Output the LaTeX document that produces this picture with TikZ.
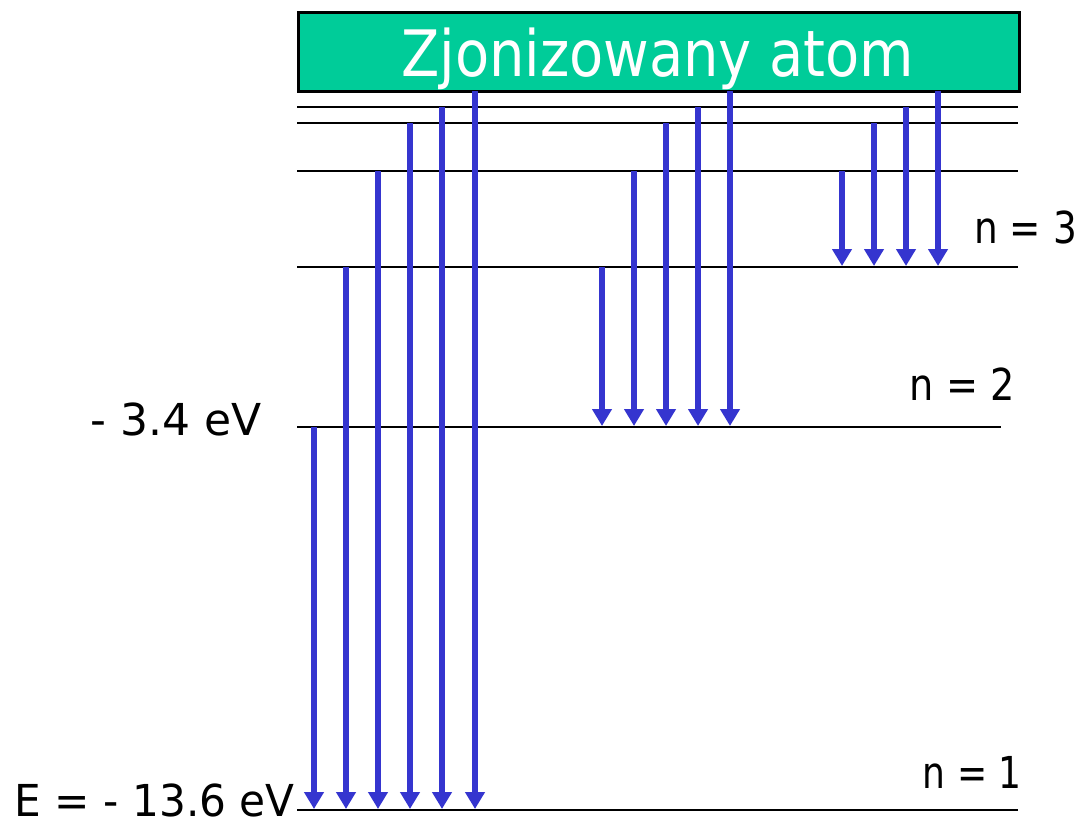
\documentclass[tikz,border=0pt]{standalone}
\usepackage{fontspec}
\setmainfont{DejaVu Sans}
\newfontfamily\titlefont{DejaVu Sans Condensed}
\usetikzlibrary{arrows.meta}
\definecolor{boxgreen}{RGB}{0,204,153}
\definecolor{arrblue}{RGB}{53,53,207}
\tikzset{
  level/.style={line width=2pt, black},
  trans/.style={line width=6pt, arrblue, -{Triangle[width=19pt,length=17pt]}, shorten >=1pt},
  lbl/.style={font=\fontsize{44}{48}\selectfont, inner sep=0pt}
}
\begin{document}
\begin{tikzpicture}[x=1pt,y=-1pt]
\useasboundingbox (0,0) rectangle (1083,823);
% title box
\node[draw=black, line width=2.5pt, fill=boxgreen, minimum width=721pt, minimum height=79pt, inner sep=0pt, anchor=north west] (box) at (297,11) {};
\node[text=white, inner sep=0pt, anchor=base] (title) at (658,76) {\scalebox{0.97}[1]{\titlefont\fontsize{64}{70}\selectfont Zjonizowany atom}};
% levels
\foreach \y/\n/\xr in {810/1/1018, 427/2/1001, 267/3/1018, 171/4/1018, 123/5/1018, 107/6/1018}{
  \coordinate (L\n a) at (297,\y);
  \coordinate (L\n b) at (\xr,\y);
  \draw[level] (L\n a) -- (L\n b);
}
% transitions to n=1
\foreach \x/\ys/\k in {314/427/1, 346/267/2, 378/171/3, 410/123/4, 442/107/5, 475/91/6}{
  \coordinate (A\k s) at (\x,\ys);
  \coordinate (A\k e) at (\x,810);
  \draw[trans] (A\k s) -- (A\k e);
}
% transitions to n=2
\foreach \x/\ys/\k in {602/267/1, 634/171/2, 666/123/3, 698/107/4, 730/91/5}{
  \coordinate (B\k s) at (\x,\ys);
  \coordinate (B\k e) at (\x,427);
  \draw[trans] (B\k s) -- (B\k e);
}
% transitions to n=3
\foreach \x/\ys/\k in {842/171/1, 874/123/2, 906/107/3, 938/91/4}{
  \coordinate (C\k s) at (\x,\ys);
  \coordinate (C\k e) at (\x,267);
  \draw[trans] (C\k s) -- (C\k e);
}
% labels
\node[lbl, anchor=base east] (e1) at (295,816) {\scalebox{0.96}[1]{E = - 13.6 eV}};
\node[lbl, anchor=base east] (e2) at (262,435) {\scalebox{1.0}[1]{- 3.4 eV}};
\node[lbl, anchor=base east] (n1) at (1022,788) {\scalebox{0.82}[1]{n = 1}};
\node[lbl, anchor=base east] (n2) at (1015,400) {\scalebox{0.87}[1]{n = 2}};
\node[lbl, anchor=base east] (n3) at (1077,243) {\scalebox{0.85}[1]{n = 3}};
\end{tikzpicture}
\end{document}
